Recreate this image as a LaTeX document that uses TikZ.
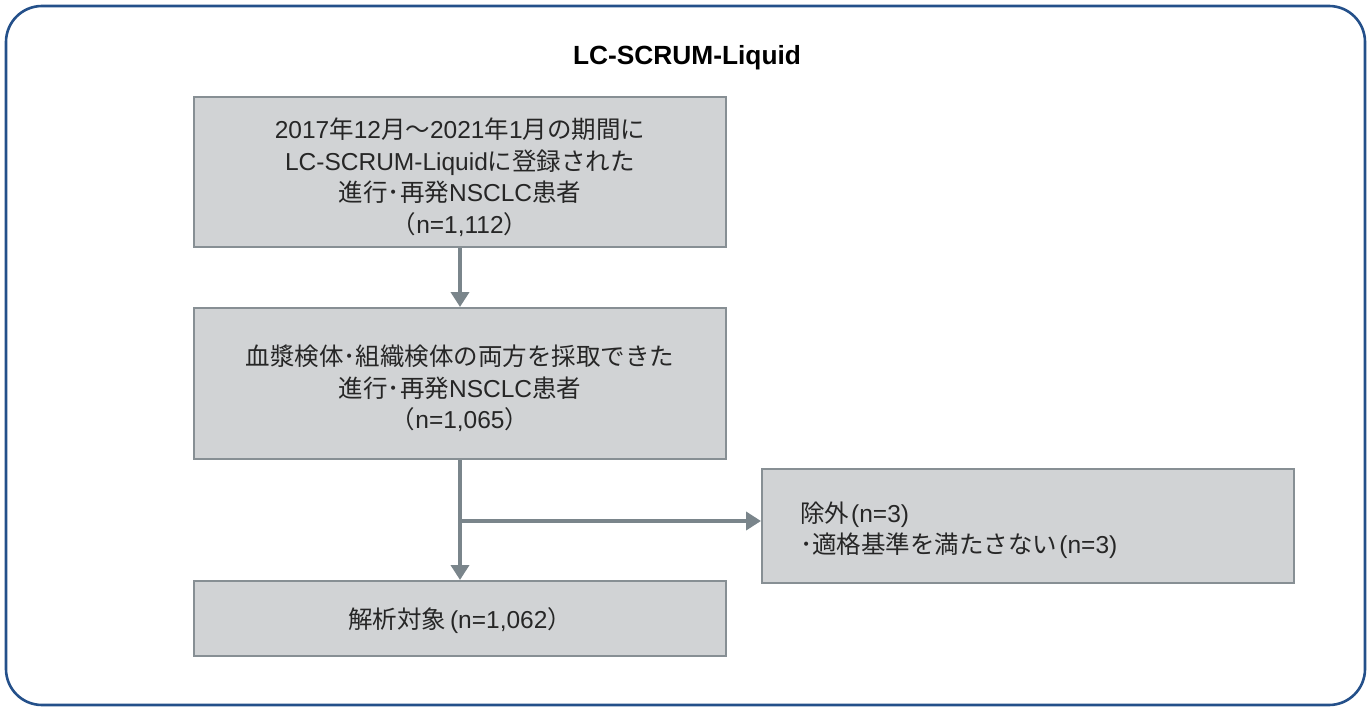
\documentclass[tikz,border=0pt]{standalone}
\usepackage{fontspec}
\setmainfont{Liberation Sans}
\newfontfamily\jpfont{Noto Sans CJK JP}
\newcommand\J[1]{{\jpfont #1}}
\usetikzlibrary{arrows.meta}
\definecolor{framecol}{HTML}{24508A}
\definecolor{boxfill}{HTML}{D1D3D5}
\definecolor{boxline}{HTML}{878F94}
\definecolor{arrcol}{HTML}{7A858B}
\tikzset{
  frame/.style={draw=framecol, line width=2.6pt, rounded corners=36pt},
  box/.style={draw=boxline, fill=boxfill, line width=2pt, inner sep=0pt},
  txt/.style={font=\fontsize{24.5}{31.5}\selectfont, align=center, inner sep=0pt, text=black!85},
  arr/.style={draw=arrcol, line width=4.2pt, -{Triangle[width=18pt,length=15pt]}}
}
\begin{document}
\begin{tikzpicture}[x=1pt,y=-1pt]
\useasboundingbox (0,0) rectangle (1371,709);
\draw[frame] (6,6) rectangle (1365,705);
\node[font=\fontsize{26.3}{30}\selectfont\bfseries, inner sep=0pt] (title) at (687,58) {LC-SCRUM-Liquid};
\node[box, minimum width=532pt, minimum height=150pt] (b1) at (460,172) {};
\node[box, minimum width=532pt, minimum height=151pt] (b2) at (460,383.5) {};
\node[box, minimum width=532pt, minimum height=75pt] (b3) at (460,618.5) {};
\node[box, minimum width=532pt, minimum height=114pt] (b4) at (1028,526) {};
\node[txt] (t1) at ([yshift=-5pt]b1.center) {2017\J{年}12\J{月〜}2021\J{年}1\J{月の期間に}\\LC-SCRUM-Liquid\J{に登録された}\\\J{進行･再発}NSCLC\J{患者}\\\J{（}n=1,112\J{）}};
\node[txt] (t2) at ([yshift=-5pt]b2.center) {\J{血漿検体･組織検体の両方を採取できた}\\\J{進行･再発}NSCLC\J{患者}\\\J{（}n=1,065\J{）}};
\node[txt] (t3) at ([yshift=-2pt]b3.center) {\J{解析対象}\kern4pt(n=1,062\J{）}};
\node[txt, align=left, anchor=west] (t4) at (800,530) {\J{除外}\kern2pt(n=3)\\\J{･適格基準を満たさない}\kern2pt(n=3)};
\coordinate (br) at (460,521);
\draw[arr] (b1.south) -- (b2.north);
\draw[arr] (b2.south) -- (b3.north);
\draw[arr] (br) -- (br -| b4.west);
\end{tikzpicture}
\end{document}
